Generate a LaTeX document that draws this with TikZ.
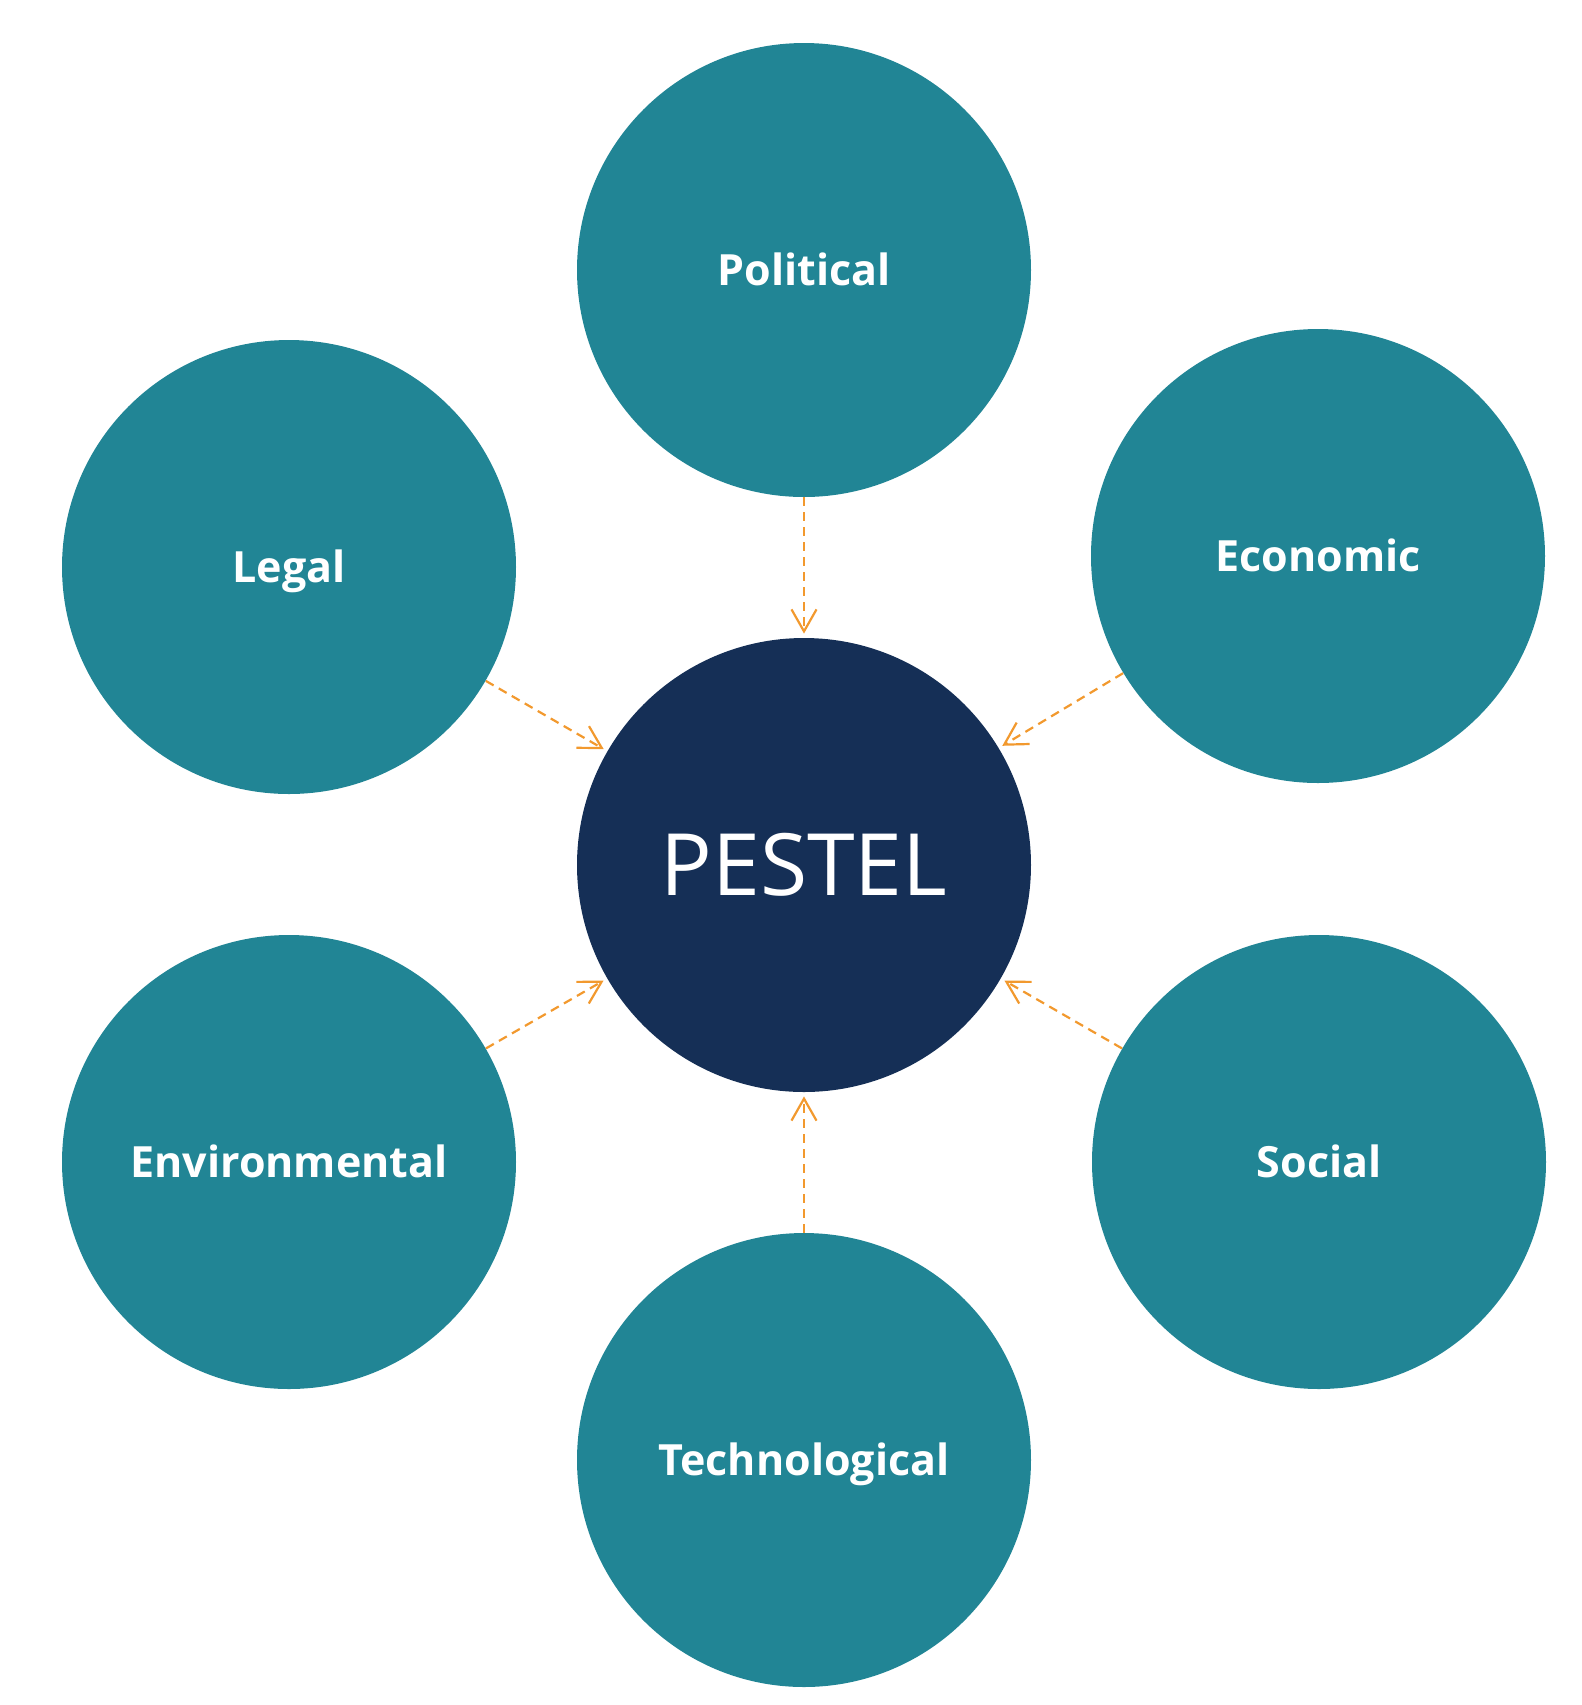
\documentclass[tikz,border=0pt]{standalone}
\usepackage{fontspec}
\setmainfont{Open Sans}
\usetikzlibrary{arrows.meta}

\definecolor{tealfill}{HTML}{218595}
\definecolor{navyfill}{HTML}{152F56}
\definecolor{arroworange}{HTML}{F2992E}

\begin{document}
\begin{tikzpicture}[x=0.5pt,y=-0.5pt,
        factor/.style={circle,fill=tealfill,text=white,minimum size=227pt,inner sep=0pt,
                font=\fontsize{21.5}{26}\selectfont\bfseries,text height=15.4pt,text depth=0pt},
        hub/.style={circle,fill=navyfill,text=white,minimum size=227pt,inner sep=0pt,
                font=\fontsize{43}{52}\selectfont,text height=30.7pt,text depth=0pt},
        link/.style={draw=arroworange,line width=1.1pt,dash pattern=on 4.5pt off 3pt,
                -{Straight Barb[length=11pt,width=12.5pt]},shorten >=2pt}]
        \useasboundingbox (0,0) rectangle (1582,1705);

        % 中心圆
        \node[hub] (pestel) at (804,865) {PESTEL};

        % 六个因素
        \node[factor] (political) at (804,270) {Political};
        \node[factor] (economic) at (1318,556) {Economic};
        \node[factor] (social) at (1319,1162) {Social};
        \node[factor] (technological) at (804,1460) {Technological};
        \node[factor] (environmental) at (289,1162) {Environmental};
        \node[factor] (legal) at (289,567) {Legal};

        % 虚线箭头指向中心
        \foreach \f in {political,economic,social,technological,environmental,legal}
            {
                \draw[link] (\f) -- (pestel);
            }

    \end{tikzpicture}
\end{document}
